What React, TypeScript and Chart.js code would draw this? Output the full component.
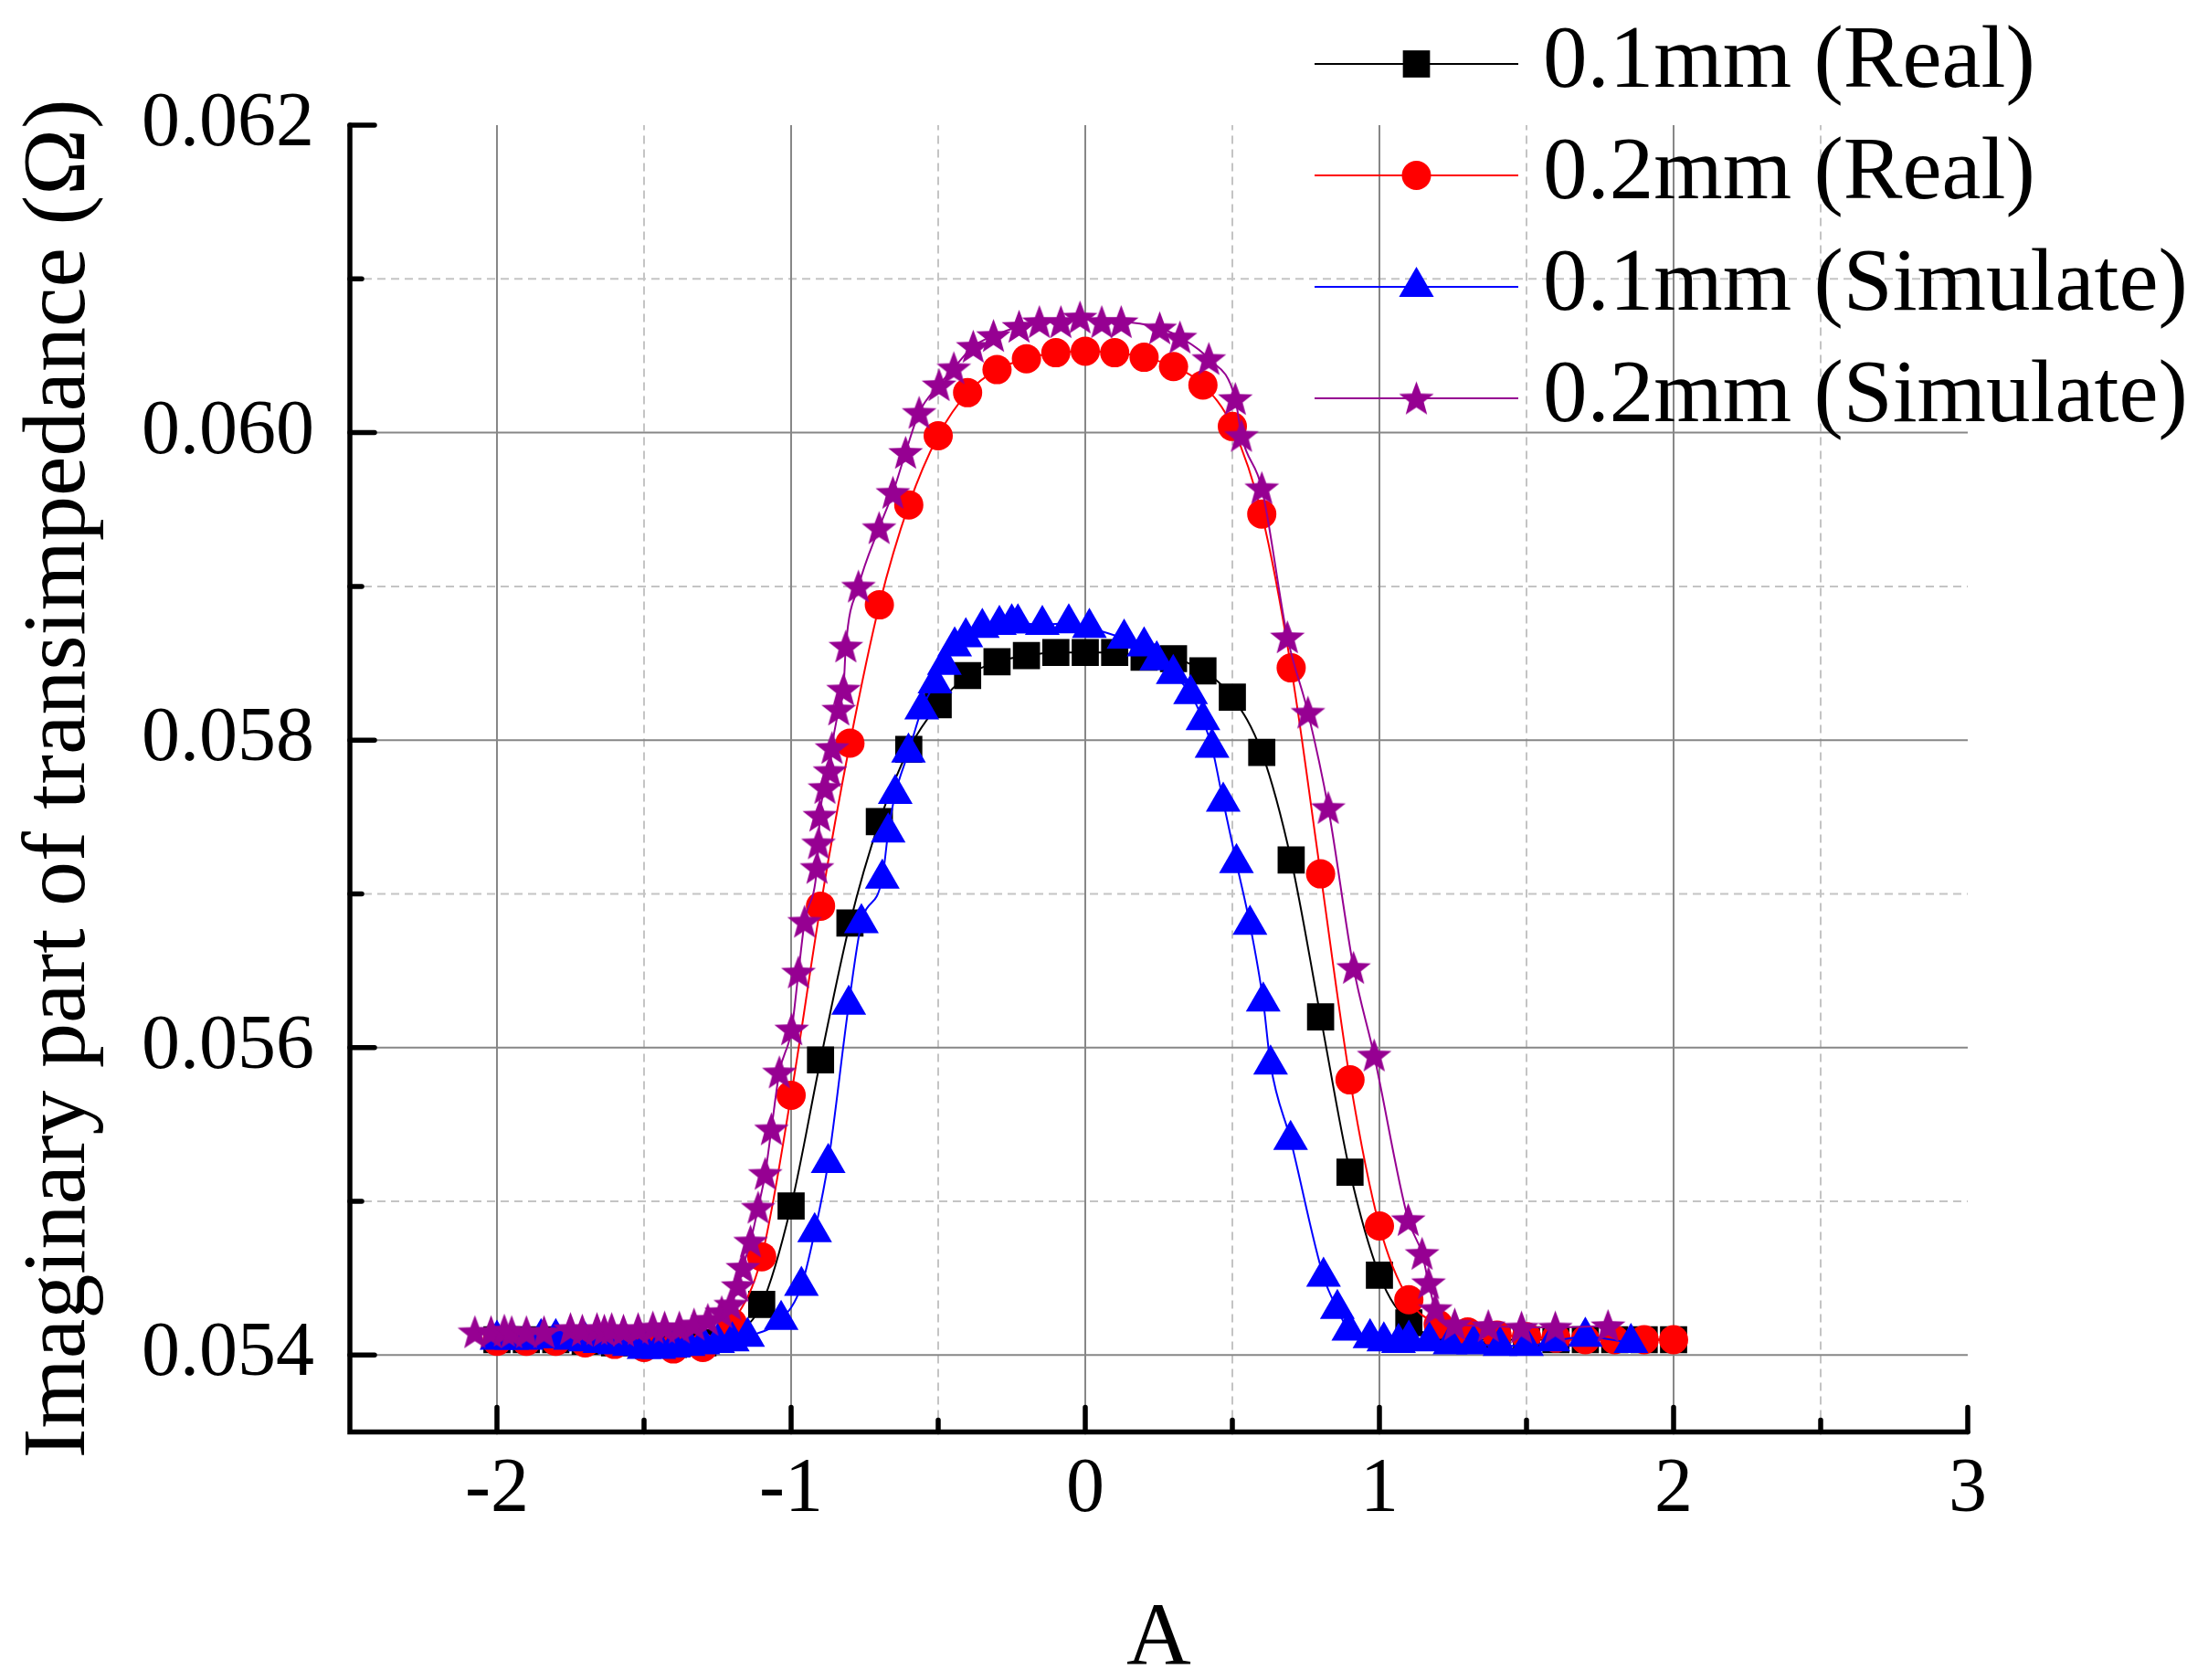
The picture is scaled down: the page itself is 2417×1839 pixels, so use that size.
import React, { useEffect, useRef } from 'react'
import { Chart, registerables, ChartConfiguration, Plugin } from 'chart.js'
import { drawPoint } from 'chart.js/helpers'

Chart.register(...registerables)

const FONT = '"Liberation Serif", "Times New Roman", serif'

const seriesLabels = ['0.1mm (Real)', '0.2mm (Real)', '0.1mm (Simulate)', '0.2mm (Simulate)']
const seriesColors = ['#000000', '#ff0000', '#0000ff', '#960092']

// measured positions, 0.1 step
const realX = [
    -2.0, -1.9, -1.8, -1.7, -1.6, -1.5, -1.4, -1.3, -1.2, -1.1, -1.0, -0.9, -0.8, -0.7,
    -0.6, -0.5, -0.4, -0.3, -0.2, -0.1, 0, 0.1, 0.2, 0.3, 0.4, 0.5, 0.6, 0.7, 0.8, 0.9,
    1.0, 1.1, 1.2, 1.3, 1.4, 1.5, 1.6, 1.7, 1.8, 1.9, 2.0,
]
const real01 = [
    0.0541, 0.0541, 0.0541, 0.05409, 0.05408, 0.05407, 0.05407, 0.05408, 0.05413, 0.05433,
    0.05497, 0.05592, 0.05681, 0.05747, 0.05794, 0.05823, 0.05842, 0.05851, 0.05855, 0.05857,
    0.05857, 0.05857, 0.05854, 0.05853, 0.05845, 0.05828, 0.05792, 0.05722, 0.0562, 0.05519,
    0.05452, 0.05421, 0.05412, 0.0541, 0.0541, 0.0541, 0.0541, 0.0541, 0.0541, 0.0541, 0.0541,
]
const real02 = [
    0.05409, 0.05409, 0.05409, 0.05408, 0.05407, 0.05405, 0.05404, 0.05405, 0.05421, 0.05464,
    0.05569, 0.05692, 0.05798, 0.05888, 0.05953, 0.05998, 0.06026, 0.06041, 0.06048, 0.06052,
    0.06053, 0.06052, 0.06049, 0.06043, 0.06031, 0.06004, 0.05947, 0.05847, 0.05713, 0.05579,
    0.05484, 0.05436, 0.0542, 0.05415, 0.05413, 0.05412, 0.05411, 0.0541, 0.0541, 0.0541, 0.0541,
]

// simulation, uneven sampling
const sim01X = [
    -2.0, -1.95, -1.9, -1.85, -1.8, -1.75, -1.7, -1.65, -1.6, -1.55, -1.5, -1.45, -1.4, -1.35,
    -1.3, -1.25, -1.2, -1.148, -1.034, -0.965, -0.92, -0.874, -0.804, -0.761, -0.69, -0.67,
    -0.646, -0.601, -0.556, -0.511, -0.479, -0.444, -0.406, -0.35, -0.292, -0.25, -0.229,
    -0.146, -0.056, 0.014, 0.132, 0.2, 0.243, 0.299, 0.358, 0.4, 0.431, 0.469, 0.514, 0.56,
    0.605, 0.63, 0.698, 0.81, 0.857, 0.896, 0.968, 1.015, 1.065, 1.1, 1.17, 1.24, 1.32, 1.41,
    1.5, 1.59, 1.7, 1.855,
]
const sim01 = [
    0.0541, 0.0541, 0.0541, 0.05411, 0.05411, 0.0541, 0.05409, 0.05408, 0.05407, 0.05406,
    0.05404, 0.05404, 0.05405, 0.05406, 0.05407, 0.05408, 0.05409, 0.05412, 0.05423, 0.05445,
    0.0548, 0.05525, 0.05628, 0.05681, 0.0571, 0.0574, 0.05765, 0.05792, 0.0582, 0.05837,
    0.05849, 0.05861, 0.05867, 0.05873, 0.05875, 0.05876, 0.05876, 0.05875, 0.05876, 0.05873,
    0.05866, 0.05861, 0.05852, 0.05843, 0.0583, 0.05813, 0.05795, 0.0576, 0.0572, 0.0568,
    0.0563, 0.05589, 0.0554, 0.05451, 0.0543, 0.05416, 0.05411, 0.05409, 0.05408, 0.0541,
    0.05409, 0.05407, 0.05407, 0.05406, 0.05406, 0.05409, 0.05412, 0.05408,
]
const sim02X = [
    -2.075, -2.02, -1.975, -1.95, -1.9, -1.84, -1.75, -1.71, -1.66, -1.635, -1.61, -1.57, -1.52,
    -1.47, -1.43, -1.38, -1.33, -1.283, -1.236, -1.205, -1.18, -1.164, -1.138, -1.112, -1.088,
    -1.067, -1.04, -0.998, -0.975, -0.954, -0.912, -0.907, -0.902, -0.885, -0.868, -0.861,
    -0.838, -0.822, -0.814, -0.771, -0.701, -0.654, -0.611, -0.565, -0.497, -0.447, -0.381,
    -0.312, -0.225, -0.156, -0.083, -0.018, 0.056, 0.122, 0.253, 0.322, 0.42, 0.51, 0.531, 0.6,
    0.687, 0.757, 0.826, 0.912, 0.982, 1.098, 1.145, 1.167, 1.19, 1.256, 1.37, 1.483, 1.598,
    1.777,
]
const sim02 = [
    0.05415, 0.05415, 0.05416, 0.05415, 0.05415, 0.05415, 0.05417, 0.05416, 0.05417, 0.05416,
    0.05417, 0.05416, 0.05417, 0.05418, 0.05418, 0.05418, 0.0542, 0.05423, 0.05428, 0.05433,
    0.05445, 0.05457, 0.05474, 0.05496, 0.05518, 0.05547, 0.05584, 0.05612, 0.05649, 0.05682,
    0.05717, 0.05733, 0.05751, 0.05769, 0.0578, 0.05795, 0.0582, 0.05833, 0.05861, 0.059,
    0.05938, 0.05961, 0.05987, 0.06013, 0.06031, 0.06042, 0.06056, 0.06063, 0.06069, 0.06072,
    0.06072, 0.06075, 0.06072, 0.06072, 0.06068, 0.06062, 0.06048, 0.06022, 0.05998, 0.05964,
    0.05867, 0.05818, 0.05756, 0.05652, 0.05595, 0.05488, 0.05466, 0.05447, 0.0543, 0.0542,
    0.05419, 0.05418, 0.05418, 0.05419,
]

const xTicks = [-2, -1, 0, 1, 2, 3]
const xMinor = [-1.5, -0.5, 0.5, 1.5, 2.5]
const yTicks = [0.054, 0.056, 0.058, 0.06, 0.062]
const yMinor = [0.055, 0.057, 0.059, 0.061]

const toPoints = (xs: number[], ys: number[]) => xs.map((x, i) => ({ x, y: ys[i] }))

function makeStar(color: string, R: number) {
    const c = document.createElement('canvas')
    const w = Math.ceil(2 * R * Math.sin((2 * Math.PI) / 5)) + 2
    const h = Math.ceil(R * (1 + Math.cos(Math.PI / 5))) + 2
    c.width = w
    c.height = h
    const g = c.getContext('2d')!
    const cx = w / 2
    const cy = 1 + R
    g.beginPath()
    for (let i = 0; i < 10; i++) {
        const r = i % 2 === 0 ? R : R * 0.42
        const a = -Math.PI / 2 + (i * Math.PI) / 5
        g.lineTo(cx + r * Math.cos(a), cy + r * Math.sin(a))
    }
    g.closePath()
    g.fillStyle = color
    g.fill()
    return c
}

// grid below the data, axes with inward ticks on top
const framePlugin: Plugin = {
    id: 'frame',
    beforeDatasetsDraw(chart) {
        const { ctx } = chart
        const x = chart.scales.x
        const y = chart.scales.y
        const { left, right, top, bottom } = chart.chartArea
        ctx.save()
        ctx.strokeStyle = '#c4c4c4'
        ctx.lineWidth = 2
        ctx.setLineDash([9, 6])
        ctx.beginPath()
        yMinor.forEach((v) => {
            const py = y.getPixelForValue(v)
            ctx.moveTo(left, py)
            ctx.lineTo(right, py)
        })
        xMinor.forEach((v) => {
            const px = x.getPixelForValue(v)
            ctx.moveTo(px, bottom)
            ctx.lineTo(px, top)
        })
        ctx.stroke()
        ctx.setLineDash([])
        ctx.strokeStyle = '#878787'
        ctx.lineWidth = 2
        ctx.beginPath()
        yTicks.slice(0, -1).forEach((v) => {
            const py = y.getPixelForValue(v)
            ctx.moveTo(left, py)
            ctx.lineTo(right, py)
        })
        xTicks.slice(0, -1).forEach((v) => {
            const px = x.getPixelForValue(v)
            ctx.moveTo(px, bottom)
            ctx.lineTo(px, top)
        })
        ctx.stroke()
        ctx.restore()
    },
    afterDatasetsDraw(chart) {
        const { ctx } = chart
        const x = chart.scales.x
        const y = chart.scales.y
        const { left, right, top, bottom } = chart.chartArea
        ctx.save()
        ctx.strokeStyle = '#000'
        ctx.lineWidth = 5.5
        ctx.lineCap = 'round'
        ctx.beginPath()
        ctx.moveTo(left, top)
        ctx.lineTo(left, bottom)
        ctx.lineTo(right, bottom)
        ctx.stroke()
        ctx.beginPath()
        yTicks.forEach((v) => {
            const py = y.getPixelForValue(v)
            ctx.moveTo(left, py)
            ctx.lineTo(left + 27, py)
        })
        yMinor.forEach((v) => {
            const py = y.getPixelForValue(v)
            ctx.moveTo(left, py)
            ctx.lineTo(left + 13, py)
        })
        xTicks.forEach((v) => {
            const px = x.getPixelForValue(v)
            ctx.moveTo(px, bottom)
            ctx.lineTo(px, bottom - 27)
        })
        xMinor.forEach((v) => {
            const px = x.getPixelForValue(v)
            ctx.moveTo(px, bottom)
            ctx.lineTo(px, bottom - 13)
        })
        ctx.stroke()
        ctx.restore()
    },
}

const legendPlugin: Plugin = {
    id: 'cornerLegend',
    afterDraw(chart) {
        const { ctx } = chart
        ctx.save()
        chart.data.datasets.forEach((ds: any, i) => {
            const yy = 70 + i * 122
            ctx.strokeStyle = ds.borderColor
            ctx.lineWidth = ds.borderWidth
            ctx.beginPath()
            ctx.moveTo(1439, yy)
            ctx.lineTo(1662, yy)
            ctx.stroke()
            ctx.fillStyle = ds.pointBackgroundColor
            drawPoint(ctx, { pointStyle: ds.pointStyle, radius: ds.pointRadius, rotation: 0, borderWidth: 0 } as any, 1550.5, yy)
            ctx.fillStyle = '#000'
            ctx.font = `97px ${FONT}`
            ctx.textBaseline = 'middle'
            ctx.textAlign = 'left'
            ctx.fillText(ds.label, 1689, yy)
        })
        ctx.restore()
    },
}

export default function App() {
    const ref = useRef<HTMLCanvasElement | null>(null)

    useEffect(() => {
        if (!ref.current) {
            return
        }
        const star = makeStar(seriesColors[3], 20)
        const styles: any[] = ['rect', 'circle', 'triangle', star]
        const radii = [21, 16, 22, 18]
        const sets = [
            toPoints(realX, real01),
            toPoints(realX, real02),
            toPoints(sim01X, sim01),
            toPoints(sim02X, sim02),
        ]

        const cfg: ChartConfiguration = {
            type: 'line',
            data: {
                datasets: sets.map((data, i) => ({
                    label: seriesLabels[i],
                    data,
                    borderColor: seriesColors[i],
                    backgroundColor: seriesColors[i],
                    pointBackgroundColor: seriesColors[i],
                    borderWidth: 2,
                    pointStyle: styles[i],
                    pointRadius: radii[i],
                    pointBorderWidth: 0,
                    cubicInterpolationMode: 'monotone',
                    order: 4 - i,
                })) as any,
            },
            options: {
                animation: false,
                responsive: false,
                maintainAspectRatio: false,
                layout: { padding: { left: 0, top: 137, right: 263, bottom: 0 } },
                plugins: {
                    legend: { display: false },
                    tooltip: { enabled: false },
                },
                scales: {
                    x: {
                        type: 'linear',
                        min: -2.5,
                        max: 3,
                        afterBuildTicks: (s: any) => {
                            s.ticks = xTicks.map((v) => ({ value: v }))
                        },
                        afterFit: (s: any) => {
                            s.height = 271.5
                        },
                        grid: { display: false, drawTicks: false },
                        border: { display: false },
                        ticks: {
                            color: '#000',
                            font: { family: FONT, size: 84 },
                            padding: 14,
                            maxRotation: 0,
                            autoSkip: false,
                            callback: (v: any) => String(v),
                        },
                        title: {
                            display: true,
                            text: 'A',
                            color: '#000',
                            font: { family: FONT, size: 98, lineHeight: 0.9 },
                            padding: 0,
                        },
                    },
                    y: {
                        type: 'linear',
                        min: 0.0535,
                        max: 0.062,
                        afterBuildTicks: (s: any) => {
                            s.ticks = yTicks.map((v) => ({ value: v }))
                        },
                        afterFit: (s: any) => {
                            s.width = 383
                        },
                        grid: { display: false, drawTicks: false },
                        border: { display: false },
                        ticks: {
                            color: '#000',
                            font: { family: FONT, size: 84 },
                            padding: 39,
                            autoSkip: false,
                            callback: (v: any) => Number(v).toFixed(3),
                        },
                        title: {
                            display: true,
                            text: 'Imaginary part of transimpedance (Ω)',
                            color: '#000',
                            font: { family: FONT, size: 98 },
                            padding: { top: 7, bottom: 0 },
                        },
                    },
                },
            },
            plugins: [framePlugin, legendPlugin],
        }

        const myChart = new Chart(ref.current, cfg)
        return () => myChart.destroy()
    }, [])

    return (
        <div style={{ position: 'absolute', left: 0, top: 0, background: '#fff' }}>
            <canvas ref={ref} width={2417} height={1839} style={{ display: 'block' }}></canvas>
        </div>
    )
}
